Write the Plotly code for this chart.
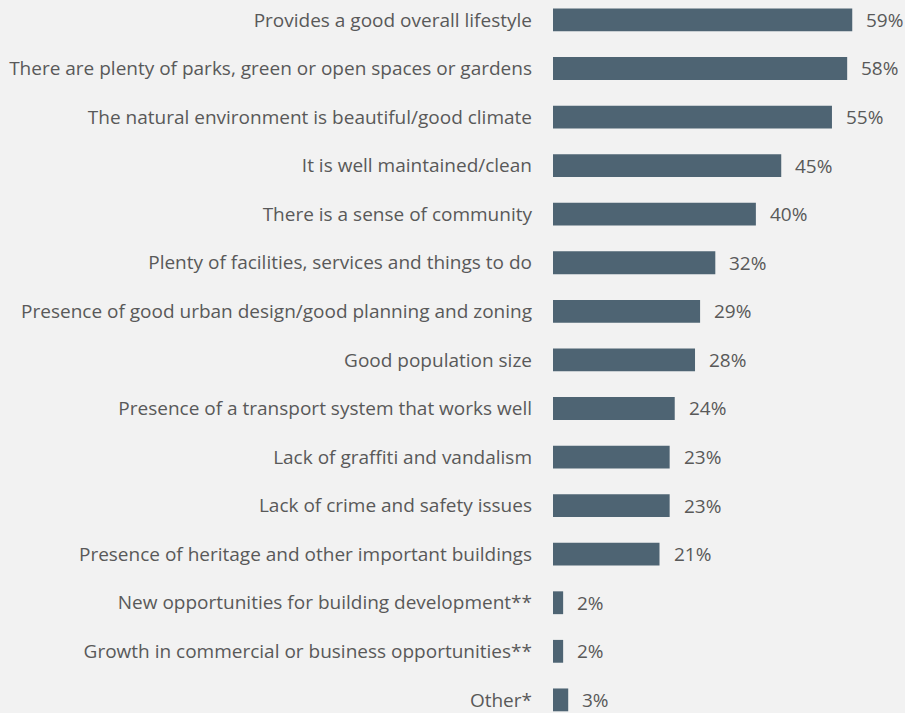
import plotly.graph_objects as go

categories = [
    "Provides a good overall lifestyle",
    "There are plenty of parks, green or open spaces or gardens",
    "The natural environment is beautiful/good climate",
    "It is well maintained/clean",
    "There is a sense of community",
    "Plenty of facilities, services and things to do",
    "Presence of good urban design/good planning and zoning",
    "Good population size",
    "Presence of a transport system that works well",
    "Lack of graffiti and vandalism",
    "Lack of crime and safety issues",
    "Presence of heritage and other important buildings",
    "New opportunities for building development**",
    "Growth in commercial or business opportunities**",
    "Other*",
]
values = [59, 58, 55, 45, 40, 32, 29, 28, 24, 23, 23, 21, 2, 2, 3]

BAR = "#4e6473"
TXT = "#595959"
BG = "#f2f2f2"
FONT = "Open Sans"
FS = 19

fig = go.Figure(go.Bar(
    x=values, y=categories, orientation="h",
    marker=dict(color=BAR, line=dict(width=0)),
    width=0.47,
    hoverinfo="skip",
))

for c, v in zip(categories, values):
    fig.add_annotation(x=v, y=c, text=f"{v}%", xanchor="left", yanchor="middle",
                       xshift=12, showarrow=False,
                       font=dict(family=FONT, size=FS, color=TXT))

fig.update_layout(
    width=905, height=713,
    paper_bgcolor=BG, plot_bgcolor=BG,
    margin=dict(l=553, r=0, t=0, b=0),
    showlegend=False,
    font=dict(family=FONT, size=FS, color=TXT),
    xaxis=dict(range=[0, 69.4], visible=False, showgrid=False, zeroline=False),
    yaxis=dict(range=[14.27, -0.41], showgrid=False, zeroline=False,
               ticks="", ticklabelstandoff=20,
               tickfont=dict(family=FONT, size=FS, color=TXT)),
)

fig.write_html("out.html", config={"displayModeBar": False},
               post_script="document.body.style.margin='0';document.body.style.background='#f2f2f2';")
